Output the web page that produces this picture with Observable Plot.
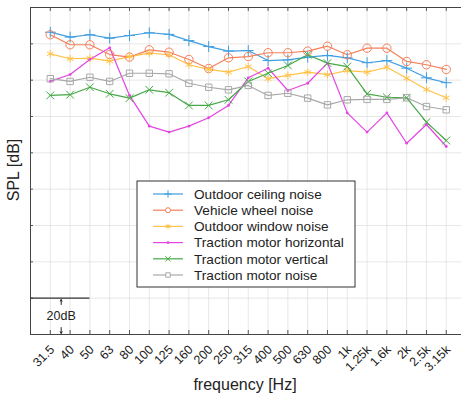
<!DOCTYPE html>
<html>
<head>
<meta charset="utf-8">
<script src="https://cdn.jsdelivr.net/npm/d3@7"></script>
<script src="https://cdn.jsdelivr.net/npm/@observablehq/plot@0.6"></script>
<style>
  body { margin: 0; background: #fff; }
  #chart { position: relative; width: 461px; height: 396px; }
  svg { font-family: "Liberation Sans", Arial, sans-serif; }
</style>
</head>
<body>
<div id="chart"></div>
<script>
const frequencies = ["31.5","40","50","63","80","100","125","160","200","250","315","400","500","630","800","1k","1.25k","1.6k","2k","2.5k","3.15k"];

const seriesNames = ["Outdoor ceiling noise","Vehicle wheel noise","Outdoor window noise","Traction motor horizontal","Traction motor vertical","Traction motor noise"];
const seriesColors = ["#3f9ee0","#f3805a","#ffc24a","#e444e4","#46a846","#a8a8a8"];
const seriesSymbols = ["plus","circle","asterisk","dot","times","square"];

const outdoorCeiling = [166.4,163.7,165.0,163.1,164.6,166.1,165.2,161.8,158.5,156.0,156.3,150.8,151.2,152.7,153.6,152.3,149.6,150.8,146.6,141.3,138.6];
const vehicleWheel   = [165.0,159.5,159.5,154.1,152.7,156.7,155.4,151.4,146.4,152.3,153.0,155.1,155.1,156.0,158.7,154.0,157.6,157.6,150.3,148.5,145.9];
const outdoorWindow  = [154.5,151.8,152.1,150.5,153.0,154.9,154.0,148.5,145.9,144.4,147.5,140.8,142.6,144.4,143.0,145.3,144.4,147.1,141.1,134.9,130.3];
const motorHorizontal= [139.3,143.1,151.4,157.8,131.6,114.7,111.4,114.7,119.3,126.1,141.3,146.6,134.3,138.3,149.4,122.0,111.4,122.0,105.3,115.6,103.5];
const motorVertical  = [131.6,132.0,136.1,132.5,130.1,134.7,133.1,126.1,126.1,129.2,139.3,143.8,148.1,154.0,149.4,147.5,132.5,130.6,130.3,116.9,106.8];
const motorNoise     = [140.8,139.3,141.6,139.3,143.8,143.8,143.5,138.3,136.1,134.7,137.1,131.6,132.8,130.1,126.4,129.2,129.4,129.4,130.3,125.5,123.7];

const yTicks = [0,20,40,60,80,100,120,140,160,180];
const scaleBarValue = 20;

const allValues = [outdoorCeiling, vehicleWheel, outdoorWindow, motorHorizontal, motorVertical, motorNoise];
const data = [];
allValues.forEach((vals, s) => vals.forEach((v, i) => data.push({series: seriesNames[s], s, i, f: frequencies[i], v})));

const idx = frequencies.map((_, i) => i);
const colorScale = {domain: seriesNames, range: seriesColors};

const marks = [
  Plot.gridX(idx, {stroke: "#dcdcdc", strokeOpacity: 1, strokeWidth: 0.7}),
  Plot.gridY(yTicks, {stroke: "#dcdcdc", strokeOpacity: 1, strokeWidth: 0.7}),
  Plot.ruleX(idx, {y1: 0, y2: 2.2, stroke: "#555"}),
  Plot.ruleX(idx, {y1: 180, y2: 177.8, stroke: "#555"}),
  Plot.ruleY(yTicks, {x1: -1, x2: -0.85, stroke: "#555"}),
  Plot.ruleX([-1], {stroke: "#444", strokeWidth: 1}),
  Plot.ruleY([0, 180], {stroke: "#444", strokeWidth: 1}),
  Plot.line(data, {x: "i", y: "v", z: "series", stroke: "series", strokeWidth: 1.2}),
];
seriesNames.forEach((name, s) => {
  const sub = data.filter(d => d.s === s);
  const sym = seriesSymbols[s];
  if (sym === "dot") {
    marks.push(Plot.dot(sub, {x: "i", y: "v", r: 1.4, fill: "series", stroke: "none"}));
  } else {
    marks.push(Plot.dot(sub, {x: "i", y: "v", symbol: () => sym, r: sym === "circle" ? 4.2 : 3.6, stroke: "series", fill: "none", strokeWidth: 1}));
  }
});
marks.push(Plot.ruleY([scaleBarValue], {x1: -1, x2: 2, stroke: "#333", strokeWidth: 1.2}));
marks.push(Plot.arrow([{a: 0.55}], {x1: "a", x2: "a", y1: 16.5, y2: scaleBarValue - 0.8, stroke: "#222", headLength: 6, strokeWidth: 1}));
marks.push(Plot.arrow([{a: 0.55}], {x1: "a", x2: "a", y1: 3.8, y2: 0.6, stroke: "#222", headLength: 6, strokeWidth: 1}));
marks.push(Plot.text([scaleBarValue + "dB"], {x: 0.55, y: 10, text: d => d, fontSize: 12.5, fill: "#222"}));

const plot = Plot.plot({
  width: 461,
  height: 396,
  marginLeft: 30,
  marginRight: 0,
  marginTop: 7,
  marginBottom: 62,
  style: {fontFamily: "'Liberation Sans', Arial, sans-serif", background: "#fff"},
  x: {type: "linear", domain: [-1, 20.77], axis: null},
  y: {domain: [0, 180], axis: null},
  color: colorScale,
  marks: [
    ...marks,
    Plot.text(idx, {x: d => d, y: 0, text: d => frequencies[d], rotate: -45, textAnchor: "end", dx: 2, dy: 13, fontSize: 12.5, fill: "#222"}),
  ]
});
document.getElementById("chart").appendChild(plot);

const svg = d3.select(plot);
svg.append("text").attr("transform", "translate(19,170) rotate(-90)").attr("text-anchor", "middle")
  .attr("font-size", 16).attr("fill", "#222").text("SPL [dB]");
svg.append("text").attr("x", 245).attr("y", 390).attr("text-anchor", "middle")
  .attr("font-size", 16).attr("fill", "#222").text("frequency [Hz]");

const lg = svg.append("g").attr("transform", "translate(137,181)");
lg.append("rect").attr("width", 218).attr("height", 106).attr("fill", "#fff").attr("stroke", "#333").attr("stroke-width", 1);
const symMap = {plus: d3.symbolPlus, circle: d3.symbolCircle, asterisk: d3.symbolAsterisk, times: d3.symbolTimes, square: d3.symbolSquare};
seriesNames.forEach((name, s) => {
  const y = 13 + s * 16.2;
  const g = lg.append("g").attr("transform", `translate(0,${y})`);
  g.append("line").attr("x1", 16).attr("x2", 46).attr("y1", 0).attr("y2", 0).attr("stroke", seriesColors[s]).attr("stroke-width", 1.2);
  if (seriesSymbols[s] === "dot") {
    g.append("circle").attr("cx", 31).attr("cy", 0).attr("r", 1.4).attr("fill", seriesColors[s]);
  } else {
    g.append("path").attr("transform", "translate(31,0)")
      .attr("d", d3.symbol(symMap[seriesSymbols[s]], 20)())
      .attr("fill", "#fff").attr("stroke", seriesColors[s]).attr("stroke-width", 1);
  }
  g.append("text").attr("x", 57).attr("y", 0).attr("dy", "0.35em").attr("text-anchor", "start")
    .attr("font-size", 13.6).attr("fill", "#222").text(name);
});
</script>
</body>
</html>
